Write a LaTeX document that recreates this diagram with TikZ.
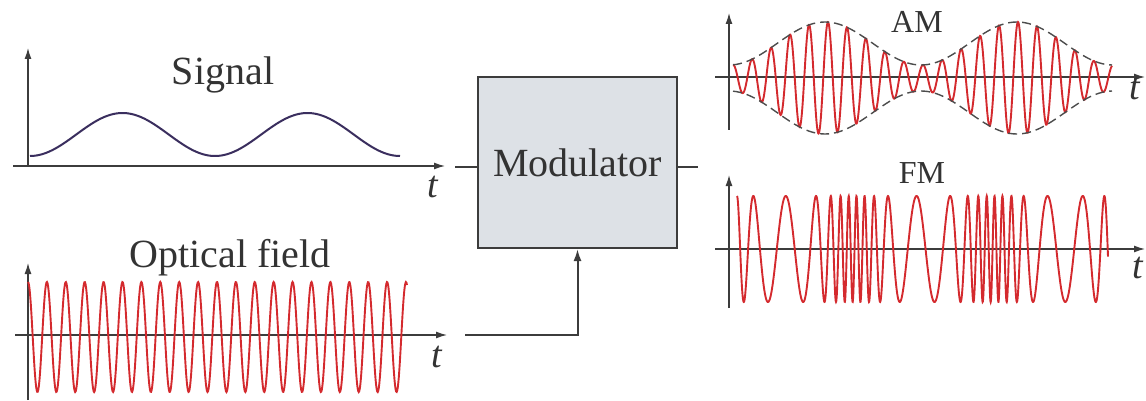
\documentclass[tikz,border=0pt]{standalone}
\usepackage{fontspec}
\setmainfont{Liberation Serif}
\usetikzlibrary{arrows.meta}
\definecolor{wave}{HTML}{D42A2E}
\definecolor{sigcol}{HTML}{3A2E5E}
\definecolor{axcol}{HTML}{3C3C3C}
\definecolor{boxfill}{HTML}{DDE1E6}
\tikzset{
  axis line/.style={axcol,line width=1.3pt,-{Latex[length=11pt,width=7pt]}},
  wave line/.style={wave,line width=1.9pt},
  env line/.style={gray!60!black,line width=1.4pt,dash pattern=on 9pt off 5pt},
  conn/.style={axcol,line width=2pt},
  lbl/.style={text=black!80,font=\fontsize{40}{48}\selectfont,anchor=base},
  small lbl/.style={text=black!80,font=\fontsize{32}{38}\selectfont,anchor=base},
  t lbl/.style={text=black!80,font=\fontsize{38}{44}\selectfont\itshape,anchor=base}
}

\begin{document}
\begin{tikzpicture}[x=1pt,y=-1pt]
\useasboundingbox (0,0) rectangle (1146,401);

\coordinate (s) at (455,167);
\coordinate (o) at (698,167);
\coordinate (f) at (465,335);

\node[draw=axcol,line width=2pt,fill=boxfill,minimum width=199pt,minimum height=171pt,
  text=black!80,font=\fontsize{40}{48}\selectfont] (mod) at (577.5,162.5) {Modulator};

%Signal
\draw[axis line] (28,167) -- (28,48);
\draw[axis line] (13,166) -- (445,166);
\draw[sigcol,line width=2pt] plot[domain=30:400,samples=200,variable=\x]
  ({\x},{134.5+21.5*cos(1.946*(\x-30))});
\node[lbl] (signal) at (223,85) {Signal};
\node[t lbl] (t1) at (433,197) {t};

%Optical field
\draw[axis line] (28,400) -- (28,263);
\draw[axis line] (15,335) -- (447,335);
\draw[wave line] plot[domain=28:407,samples=700,variable=\x]
  ({\x},{337-55*cos(19.048*(\x-28))});
\node[lbl] (optical) at (230,267) {Optical field};
\node[t lbl] (t2) at (437,367) {t};

%AM
\draw[axis line] (729,130) -- (729,13);
\draw[axis line] (715,77) -- (1145,77);
\draw[wave line] plot[domain=733:1112,samples=900,variable=\x]
  ({\x},{78-(34.5+21.5*cos(1.875*(\x-825)))*cos(18.947*(\x-733))});
\draw[env line] plot[domain=733:1112,samples=120,variable=\x]
  ({\x},{78-(34.5+21.5*cos(1.875*(\x-825)))});
\draw[env line] plot[domain=733:1112,samples=120,variable=\x]
  ({\x},{78+(34.5+21.5*cos(1.875*(\x-825)))});
\node[small lbl] (am) at (917,33) {AM};
\node[t lbl] (t3) at (1135,100) {t};

%FM
\draw[axis line] (729,308) -- (729,175);
\draw[axis line] (715,249) -- (1145,249);
\draw[wave line] plot[domain=737:1108,samples=1800,variable=\x]
  ({\x},{249-53*cos(23.8*(\x-737)+818.2*(0.5*sin(2.571*(\x-853))+0.0625*sin(5.143*(\x-853))-0.492))});
\node[small lbl] (fm) at (922,183) {FM};
\node[t lbl] (t4) at (1138,278) {t};

%Connectors
\draw[conn] (s) -- (mod.west |- s);
\draw[conn] (mod.east |- o) -- (o);
\draw[conn,-{Latex[length=12pt,width=8pt]}] (f) -- (mod.south |- f) -- (mod.south);

\end{tikzpicture}
\end{document}
